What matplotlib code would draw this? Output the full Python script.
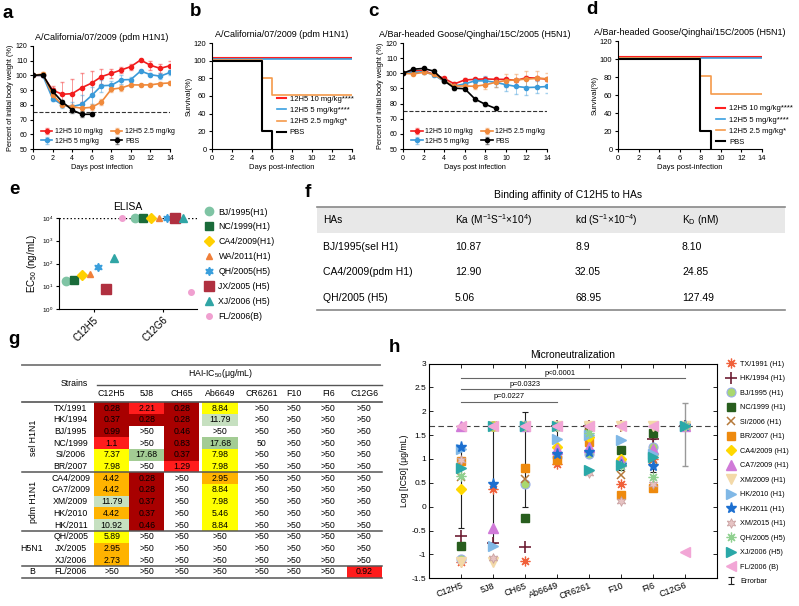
import matplotlib
matplotlib.use('Agg')
import matplotlib.pyplot as plt
import numpy as np
from matplotlib.patches import Rectangle
from matplotlib.ticker import FuncFormatter

plt.rcParams['font.family'] = ['Liberation Sans', 'DejaVu Sans']
plt.rcParams['mathtext.default'] = 'regular'

W, H = 799, 606

# ---------------- data ----------------
days = np.arange(15)
# a: A/California/07/2009 body weight
a_10 = [100, 100, 90, 87.2, 87.6, 91.7, 94.8, 99.2, 101.4, 103.7, 106, 110.5, 106.9, 104.8, 106.6]
a_10_err = [0, 1, 3, 8, 10, 10, 8, 5, 3, 2, 2, 1, 3, 3, 3]
a_5 = [100, 100, 84.3, 80, 78.8, 80.4, 86.4, 93, 93.3, 97, 97.2, 103, 100.5, 99.5, 102]
a_5_err = [0, 1, 2, 2, 3, 6, 6, 4, 3, 3, 2, 1, 1, 2, 2]
a_25 = [100, 101, 86.8, 80, 78.6, 77.8, 78.3, 82, 90.6, 91.5, 93.6, 93.5, 93.6, 94.5, 94.9]
a_25_err = [0, 1, 2, 1, 2, 2, 2, 2, 2, 2, 1, 1, 1, 1, 1]
a_pbs = [100, 100.5, 89.3, 82, 76.5, 73.6, 73.6]
a_pbs_err = [0, 1, 2, 1, 2, 2, 1]

# c: A/Bar-headed Goose/Qinghai/15C/2005 body weight
c_10 = [100, 101.6, 101.8, 99.2, 96.6, 93, 95.6, 96, 96.3, 96, 96, 95.3, 97.1, 96.8, 96.1]
c_10_err = [0, 1, 1, 1, 1, 1, 1, 1, 1, 1, 1, 1, 1, 1, 1]
c_5 = [100, 100.6, 101, 99, 94.6, 91.6, 93, 95, 95, 94, 92.5, 91.3, 90.6, 90.8, 91.3]
c_5_err = [0, 1, 1, 1, 1, 2, 2, 2, 3, 3, 4, 5, 5, 4, 4]
c_25 = [100, 99.6, 100.6, 99.4, 95, 91.6, 91.6, 91.4, 92.4, 94, 95.2, 95.6, 96.2, 96.6, 96.5]
c_25_err = [0, 1, 1, 1, 1, 2, 2, 2, 3, 3, 4, 4, 5, 5, 4]
c_pbs = [100, 102.7, 103.2, 101.4, 95, 90.2, 89.8, 83, 79.5, 76.8]
c_pbs_err = [0, 1, 1, 1, 1, 1, 1, 1, 1, 1]

# b, d: survival (%)
b_days = [0, 5, 6, 14]
b_10 = [100, 100, 100, 100]
b_5 = [100, 100, 100, 100]
b_25 = [100, 80, 60, 60]
b_pbs_days = [0, 5, 6]
b_pbs = [100, 20, 0]
d_days = [0, 8, 9, 14]
d_10 = [100, 100, 100, 100]
d_5 = [100, 100, 100, 100]
d_25 = [100, 80, 60, 60]
d_pbs_days = [0, 8, 9]
d_pbs = [100, 20, 0]

# e: ELISA EC50 (ng/mL)
e_strains = ['BJ/1995(H1)', 'NC/1999(H1)', 'CA4/2009(H1)', 'WA/2011(H1)',
             'QH/2005(H5)', 'JX/2005 (H5)', 'XJ/2006 (H5)', 'FL/2006(B)']
e_c12h5 = [17, 18, 32, 35, 72, 7.6, 175, 10000]
e_c12g6 = [10000, 10000, 10000, 10000, 10000, 10000, 10000, 5.5]

# f: binding affinity table
f_header = ['HAs', 'Ka (M$^{-1}$S$^{-1}$×10$^{4}$)', 'kd (S$^{-1}$×10$^{-4}$)', 'K$_D$ (nM)']
f_has = ['BJ/1995(sel H1)', 'CA4/2009(pdm H1)', 'QH/2005 (H5)']
f_ka = ['10.87', '12.90', '5.06']
f_kd = ['8.9', '32.05', '68.95']
f_kD = ['8.10', '24.85', '127.49']

# g: HAI-IC50 table
g_abs = ['C12H5', '5J8', 'CH65', 'Ab6649', 'CR6261', 'F10', 'FI6', 'C12G6']
g_strains = ['TX/1991', 'HK/1994', 'BJ/1995', 'NC/1999', 'SI/2006', 'BR/2007',
             'CA4/2009', 'CA7/2009', 'XM/2009', 'HK/2010', 'HK/2011',
             'QH/2005', 'JX/2005', 'XJ/2006', 'FL/2006']
g_vals = [
    ['0.28', '2.21', '0.28', '8.84', '>50', '>50', '>50', '>50'],
    ['0.37', '0.28', '0.28', '11.79', '>50', '>50', '>50', '>50'],
    ['0.99', '>50', '0.46', '>50', '>50', '>50', '>50', '>50'],
    ['1.1', '>50', '0.83', '17.68', '50', '>50', '>50', '>50'],
    ['7.37', '17.68', '0.37', '7.98', '>50', '>50', '>50', '>50'],
    ['7.98', '>50', '1.29', '7.98', '>50', '>50', '>50', '>50'],
    ['4.42', '0.28', '>50', '2.95', '>50', '>50', '>50', '>50'],
    ['4.42', '0.28', '>50', '8.84', '>50', '>50', '>50', '>50'],
    ['11.79', '0.37', '>50', '7.98', '>50', '>50', '>50', '>50'],
    ['4.42', '0.37', '>50', '5.46', '>50', '>50', '>50', '>50'],
    ['10.92', '0.46', '>50', '8.84', '>50', '>50', '>50', '>50'],
    ['5.89', '>50', '>50', '>50', '>50', '>50', '>50', '>50'],
    ['2.95', '>50', '>50', '>50', '>50', '>50', '>50', '>50'],
    ['2.73', '>50', '>50', '>50', '>50', '>50', '>50', '>50'],
    ['>50', '>50', '>50', '>50', '>50', '>50', '>50', '0.92'],
]
g_shade = ['DRDY....', 'DDDL....', 'D.D.....', 'R.DM....', 'YMDY....', 'Y.RY....',
           'OD.O....', 'OD.Y....', 'LD.Y....', 'OD.Y....', 'LD.Y....',
           'Y.......', 'O.......', 'O.......', '.......R']
g_groups = [('sel H1N1', 0, 5), ('pdm H1N1', 6, 10), ('H5N1', 11, 13), ('B', 14, 14)]

# h: microneutralization, log10 IC50 per antibody
h_abs = ['C12H5', '5J8', 'CH65', 'Ab6649', 'CR6261', 'F10', 'FI6', 'C12G6']
h_tx = [-1.15, 0.37, -1.13, 0.9, 1.7, 0.47, 1.0, 1.7]
h_hk94 = [-0.62, -0.77, -0.84, 1.7, 1.7, 1.7, 1.42, 1.7]
h_bj = [-1.1, 1.7, 0.47, 1.05, 1.1, 0.93, 1.25, 1.7]
h_nc = [-0.82, 1.7, -0.23, 1.7, 1.7, 1.18, 1.55, 1.7]
h_si = [0.62, 1.7, 0.57, 1.7, 1.7, 0.67, 0.97, 1.7]
h_br = [0.95, 1.7, 0.82, 0.97, 1.35, 0.25, 0.4, 1.7]
h_ca4 = [0.37, 1.7, 1.7, 1.25, 1.45, 1.0, 1.1, 1.7]
h_ca7 = [1.7, -0.45, 1.7, 1.2, 1.25, 0.95, 1.2, 1.7]
h_xm09 = [-1.15, -1.16, 1.7, 1.7, 1.7, 1.7, 1.7, 1.7]
h_hk10 = [1.2, -0.83, 1.7, 1.42, 1.5, 1.4, 1.1, 1.7]
h_hk11 = [1.25, 0.48, 1.7, 1.1, 1.15, 0.87, 0.85, 1.7]
h_xm15 = [0.97, -1.08, 1.7, 1.7, 0.7, 0.12, 0.48, 1.7]
h_qh = [0.64, 1.7, 1.7, 1.7, 1.55, 0.85, 0.63, 1.7]
h_xj = [0.82, 1.7, 1.7, 1.7, 0.77, 0.87, 1.05, 1.7]
h_fl = [1.7, 1.7, 1.7, 1.7, 1.7, 1.7, 1.7, -0.95]
h_err_mean = [0.4, 0.47, 0.99, 1.35, 1.42, 0.97, 1.07]
h_err_sd = [0.85, 1.24, 0.99, 0.35, 0.28, 0.2, 0.35]
h_c12g6_mean = 1.52
h_c12g6_sd = 0.66
h_pvals = [('p<0.0001', 1, 8, 2.69), ('p=0.0323', 1, 5, 2.46), ('p=0.0227', 1, 4, 2.2)]

# ---------------- figure ----------------
fig = plt.figure(figsize=(W / 100, H / 100), dpi=100)
ax0 = fig.add_axes([0, 0, 1, 1])
ax0.set_xlim(0, W)
ax0.set_ylim(H, 0)
ax0.axis('off')


def rect(l, t, r, b):
    return [l / W, 1 - b / H, (r - l) / W, (b - t) / H]


def prism(ax, size=5):
    for s in ['top', 'right']:
        ax.spines[s].set_visible(False)
    ax.tick_params(direction='out', length=2.5, width=0.8, labelsize=size, pad=1.5)


for lab, x, y in [('a', 8, 14), ('b', 196, 12), ('c', 373, 12), ('d', 592, 10),
                  ('e', 14, 190), ('f', 308, 192), ('g', 14, 340), ('h', 394, 347)]:
    fig.text(x / W, 1 - y / H, lab, fontsize=13.5, fontweight='bold', va='center', ha='center')

red, blue, orange = '#f21d1d', '#3a9ad9', '#f08a3c'


def weight_panel(box, title, series):
    ax = fig.add_axes(rect(*box))
    for mean, err, col, lab in series:
        eb = ax.errorbar(days[:len(mean)], mean, yerr=err, color=col, marker='o', ms=3,
                         lw=1.2, capsize=1.5, elinewidth=0.7, label=lab)
        for l in eb[2]:
            l.set_alpha(0.45)
        for c in eb[1]:
            c.set_alpha(0.45)
    ax.plot([0, 14], [75, 75], ls='--', color='#333', lw=0.8)
    ax.set_xlim(0, 14)
    ax.set_ylim(50, 120)
    ax.set_xticks(range(0, 15, 2))
    ax.set_yticks(range(50, 121, 10))
    prism(ax)
    ax.set_title(title, fontsize=6.5, pad=4)
    ax.set_xlabel('Days post infection', fontsize=5.3, labelpad=2)
    ax.set_ylabel('Percent of initial body weight (%)', fontsize=5.3, labelpad=1)
    h, l = ax.get_legend_handles_labels()
    ax.legend(h, l, ncol=2, loc='lower left', bbox_to_anchor=(0.03, 0.0), frameon=False,
              fontsize=5, handlelength=1.6, columnspacing=1.2, handletextpad=0.4,
              labelspacing=0.35, borderaxespad=0.2)
    return ax


weight_panel((33, 46, 170, 149), 'A/California/07/2009 (pdm H1N1)',
             [(a_10, a_10_err, red, '12H5 10 mg/kg'), (a_5, a_5_err, blue, '12H5 5 mg/kg'),
              (a_25, a_25_err, orange, '12H5 2.5 mg/kg'), (a_pbs, a_pbs_err, 'black', 'PBS')])
weight_panel((403, 43, 547, 149), 'A/Bar-headed Goose/Qinghai/15C/2005 (H5N1)',
             [(c_10, c_10_err, red, '12H5 10 mg/kg'), (c_5, c_5_err, blue, '12H5 5 mg/kg'),
              (c_25, c_25_err, orange, '12H5 2.5 mg/kg'), (c_pbs, c_pbs_err, 'black', 'PBS')])


def survival_panel(box, title, sd, s10, s5, s25, pd, spbs, legxy):
    ax = fig.add_axes(rect(*box))
    ax.step(sd, np.array(s10) + 2.5, where='post', color='#ff2020', lw=1.5, label='12H5 10 mg/kg****')
    ax.step(sd, np.array(s5) + 1.5, where='post', color='#3aa0e0', lw=1.2, label='12H5 5 mg/kg****')
    ax.step(sd, np.array(s25) + 0.7, where='post', color='#f59a4a', lw=1.2, label='12H5 2.5 mg/kg*')
    ax.step(pd, spbs, where='post', color='black', lw=1.5, label='PBS')
    ax.set_xlim(0, 14)
    ax.set_ylim(0, 120)
    ax.set_xticks(range(0, 15, 2))
    ax.set_yticks(range(0, 121, 20))
    prism(ax, 5.5)
    ax.set_title(title, fontsize=6.5, pad=4)
    ax.set_xlabel('Days post-infection', fontsize=5.5, labelpad=2)
    ax.set_ylabel('Survival(%)', fontsize=5.5, labelpad=1)
    ax.legend(loc='lower left', bbox_to_anchor=legxy, frameon=False, fontsize=5.5,
              handlelength=1.2, handletextpad=0.5, labelspacing=0.5, borderaxespad=0)


survival_panel((212, 43, 352, 149), 'A/California/07/2009 (pdm H1N1)',
               b_days, b_10, b_5, b_25, b_pbs_days, b_pbs, (0.44, 0.09))
survival_panel((618, 41, 762, 149), 'A/Bar-headed Goose/Qinghai/15C/2005 (H5N1)',
               d_days, d_10, d_5, d_25, d_pbs_days, d_pbs, (0.66, 0.0))

# ---- e ----
axe = fig.add_axes(rect(59, 218, 197, 309))
e_styles = [('o', '#7fc4a4', 6), ('s', '#1a6b3a', 5.5), ('D', '#ffd000', 5), ('^', '#f07f3a', 5),
            ((6, 1, 0), '#3a9fdc', 6), ('s', '#b03040', 6.5), ('^', '#30a5a5', 6), ('o', '#f0a0d0', 4)]
offs = np.linspace(-0.4, 0.41, len(e_strains))
for i, (name, (mk, col, ms)) in enumerate(zip(e_strains, e_styles)):
    axe.plot([1 + offs[i], 2 + offs[i]], [e_c12h5[i], e_c12g6[i]], marker=mk, color=col, ms=ms,
             ls='none', label=name, clip_on=False, zorder=3)
axe.set_yscale('log')
axe.set_ylim(1, 1e4)
axe.set_xlim(0.5, 2.5)
axe.plot([0.5, 2.5], [1e4, 1e4], ls=':', color='black', lw=1, zorder=2)
axe.set_xticks([1, 2])
axe.set_xticklabels(['C12H5', 'C12G6'], rotation=45, ha='right', rotation_mode='anchor', fontsize=7)
axe.set_yticks([1, 10, 100, 1000, 10000])
axe.yaxis.set_minor_locator(matplotlib.ticker.NullLocator())
prism(axe, 4.5)
axe.tick_params(axis='x', labelsize=7)
axe.set_ylabel('EC$_{50}$ (ng/mL)', fontsize=7, labelpad=2)
axe.set_title('ELISA', fontsize=7.5, pad=6)
axe.legend(loc='upper left', bbox_to_anchor=(201 / W, 1 - 204 / H), bbox_transform=fig.transFigure,
           frameon=False, fontsize=6.3, handlelength=1.0, handletextpad=0.6, labelspacing=0.68,
           borderaxespad=0)

# ---- f ----
ax0.text(568, 195, 'Binding affinity of C12H5 to HAs', fontsize=7.5, ha='center', va='center')
ax0.add_patch(Rectangle((317, 207), 468, 26, color='#e8e8e8', lw=0, zorder=1))
ax0.plot([317, 785], [207, 207], color='#888', lw=1.2)
ax0.plot([317, 785], [310, 310], color='#888', lw=1.2)
f_x = [323, 455, 575, 682]
for x, t in zip(f_x, f_header):
    ax0.text(x, 220, t, fontsize=7.3, va='center', ha='left', zorder=2)
for r, row in enumerate(zip(f_has, f_ka, f_kd, f_kD)):
    for x, t in zip(f_x, row):
        ax0.text(x, 247 + r * 25.3, t, fontsize=7.5, va='center', ha='left')

# ---- g ----
shade = {'D': '#a80000', 'R': '#ff1c1c', 'Y': '#ffff00', 'O': '#ffb300',
         'L': '#c6e0c0', 'M': '#a3cc94'}
g_cx = [111.7, 146.7, 181.7, 220, 261.7, 294.3, 328.3, 364.3]
g_w = [35, 35, 35, 36.6, 35, 35, 35, 35]
row0, pitch = 408.3, 11.67
for r, (name, vals, codes) in enumerate(zip(g_strains, g_vals, g_shade)):
    y = row0 + r * pitch
    ax0.text(70.7, y, name, fontsize=6.3, ha='center', va='center')
    for c, (v, code) in enumerate(zip(vals, codes)):
        if code in shade:
            ax0.add_patch(Rectangle((g_cx[c] - g_w[c] / 2, y - pitch / 2), g_w[c], pitch,
                                    color=shade[code], lw=0, zorder=1))
        ax0.text(g_cx[c], y, v, fontsize=6.3, ha='center', va='center', zorder=2)
for c, ab in enumerate(g_abs):
    ax0.text(g_cx[c], 394, ab, fontsize=6.3, ha='center', va='center')
ax0.text(74, 384, 'Strains', fontsize=6.3, ha='center', va='center')
ax0.text(221, 373, 'HAI-IC$_{50}$(μg/mL)', fontsize=6.3, ha='center', va='center')
ax0.plot([22, 380], [365, 365], color='#777', lw=1.3)
ax0.plot([97, 382], [385, 385], color='#555', lw=1.0)
ax0.plot([22, 382], [row0 - pitch / 2] * 2, color='#555', lw=1.2)
for name, r1, r2 in g_groups:
    ymid = row0 + (r1 + r2) / 2 * pitch
    rot = 90 if r2 > r1 + 3 else 0
    ax0.text(33 if rot else 32, ymid, name, fontsize=6.3, ha='center', va='center', rotation=rot)
    ax0.plot([22, 382], [row0 + (r2 + 0.5) * pitch] * 2, color='#555', lw=1.1)

# ---- h ----
axh = fig.add_axes(rect(429, 363.5, 717, 578.3))
hx = np.arange(1, 9)
h_series = [
    ('TX/1991 (H1)', h_tx, dict(marker=(8, 2, 0), mec='#f0603a', mfc='none', ms=7, mew=0.9)),
    ('HK/1994 (H1)', h_hk94, dict(marker='+', mec='#6e1f35', ms=8, mew=1.2)),
    ('BJ/1995 (H1)', h_bj, dict(marker='o', mfc='#a9d86e', mec='#9aaee8', ms=6.5, mew=0.8)),
    ('NC/1999 (H1)', h_nc, dict(marker='s', mfc='#285e1e', mec='#285e1e', ms=5.5)),
    ('SI/2006 (H1)', h_si, dict(marker='x', mec='#b5793a', ms=6, mew=1.1)),
    ('BR/2007 (H1)', h_br, dict(marker='s', mfc='#ee8a0e', mec='#ee8a0e', ms=5.5)),
    ('CA4/2009 (H1)', h_ca4, dict(marker='D', mfc='#ffd800', mec='#ffd800', ms=5.5)),
    ('CA7/2009 (H1)', h_ca7, dict(marker='^', mfc='#d07ad8', mec='#d07ad8', ms=7)),
    ('XM/2009 (H1)', h_xm09, dict(marker='v', mfc='#f3d9a8', mec='#f3d9a8', ms=7)),
    ('HK/2010 (H1)', h_hk10, dict(marker='>', mfc='#80b8e6', mec='#80b8e6', ms=7)),
    ('HK/2011 (H1)', h_hk11, dict(marker='*', mfc='#1c6fd0', mec='#1c6fd0', ms=8)),
    ('XM/2015 (H1)', h_xm15, dict(marker=(6, 1, 0), mfc='#e6c3c3', mec='#c9a0a0', ms=7, mew=0.6)),
    ('QH/2005 (H5)', h_qh, dict(marker=(8, 2, 0), mec='#8fd08f', mfc='none', ms=7, mew=0.9)),
    ('XJ/2006 (H5)', h_xj, dict(marker='>', mfc='#2aa8a8', mec='#2aa8a8', ms=7)),
    ('FL/2006 (B)', h_fl, dict(marker='<', mfc='#f2a6d6', mec='#f2a6d6', ms=7)),
]
handles = []
for name, vals, st in h_series:
    ln, = axh.plot(hx, vals, ls='none', label=name, zorder=3, **st)
    handles.append(ln)
eb = axh.errorbar(hx[:7], h_err_mean, yerr=h_err_sd, fmt='none', ecolor='#222', elinewidth=0.8,
                  capsize=2.2, capthick=0.8, zorder=2, label='Errorbar')
axh.errorbar([8], [h_c12g6_mean], yerr=[h_c12g6_sd], fmt='none', ecolor='#999', elinewidth=1,
             capsize=2.2, capthick=1, zorder=2)
handles.append(eb)
axh.axhline(1.7, ls=(0, (5, 3)), color='#444', lw=0.8, zorder=1)
for txt, x1, x2, y in h_pvals:
    axh.plot([x1, x2], [y, y], color='#666', lw=0.8)
    xm = (x1 + x2) / 2 if x2 < 8 else 4.1
    axh.text(xm, y + 0.03, txt, fontsize=5.3, ha='center', va='bottom')
axh.set_xlim(0, 9)
axh.set_ylim(-1.5, 3)
axh.set_xticks(hx)
axh.set_xticklabels(h_abs, rotation=20, ha='right', rotation_mode='anchor', fontsize=6.5)
axh.set_yticks(np.arange(-1.5, 3.01, 0.5))
axh.yaxis.set_major_formatter(FuncFormatter(lambda v, p: '%g' % v))
axh.tick_params(direction='in', top=True, right=True, length=3, width=0.6, labelsize=6, pad=2)
axh.tick_params(axis='x', labelsize=6.5)
for s in axh.spines.values():
    s.set_linewidth(0.8)
axh.set_title('Microneutralization', fontsize=7.3, pad=4)
axh.set_ylabel('Log [IC50] (μg/mL)', fontsize=6.2, labelpad=2)
axh.legend(handles=handles, loc='upper left', bbox_to_anchor=(724 / W, 1 - 358 / H),
           bbox_transform=fig.transFigure, frameon=False, fontsize=5.2, handlelength=1.2,
           handletextpad=0.6, labelspacing=1.03, borderaxespad=0)

fig.savefig('out.png', dpi=100)
